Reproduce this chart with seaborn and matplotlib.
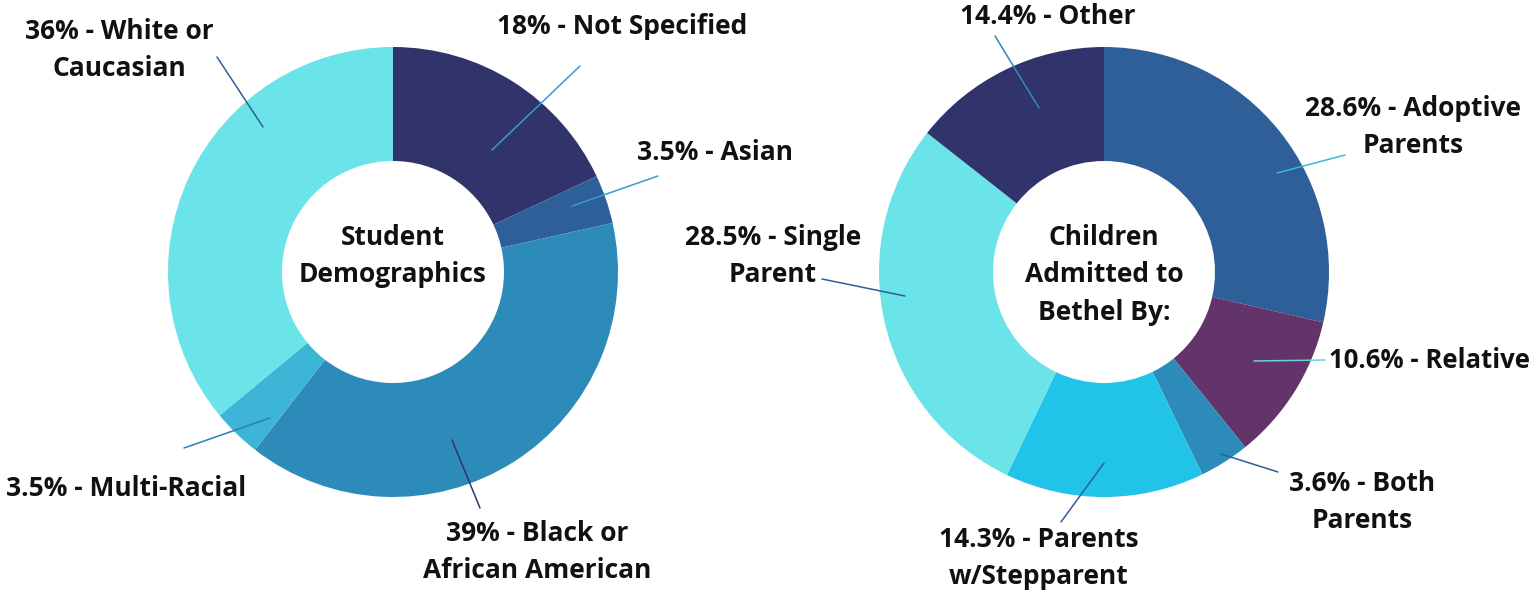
import matplotlib.pyplot as plt
import seaborn as sns

# Left donut: student demographics (clockwise from top)
demo_labels = ["18% - Not Specified", "3.5% - Asian", "39% - Black or\nAfrican American",
               "3.5% - Multi-Racial", "36% - White or\nCaucasian"]
demo_values = [18, 3.5, 39, 3.5, 36]
demo_colors = ["#31346a", "#2e5f98", "#2d8bba", "#3cb5d6", "#6ae4e8"]

# Right donut: children admitted by (clockwise from top)
adm_labels = ["28.6% - Adoptive\nParents", "10.6% - Relative", "3.6% - Both\nParents",
              "14.3% - Parents\nw/Stepparent", "28.5% - Single\nParent", "14.4% - Other"]
adm_values = [28.6, 10.6, 3.6, 14.3, 28.5, 14.4]
adm_colors = ["#2e5f98", "#633469", "#2d8bba", "#22c3e8", "#6ae4e8", "#31346a"]

W, H = 1530, 590

sns.set_theme(style="white")
plt.rcParams["font.family"] = ["Open Sans", "DejaVu Sans"]

fig = plt.figure(figsize=(W / 100, H / 100), dpi=100)
ax = fig.add_axes([0, 0, 1, 1])


def py(y):
    # pixel row (from top) -> data y
    return H - y


def donut(cx, cy, values, colors):
    ax.pie(values, colors=colors, startangle=90, counterclock=False,
           center=(cx, py(cy)), radius=225, frame=True,
           wedgeprops=dict(width=114, linewidth=0))


donut(393, 272, demo_values, demo_colors)
donut(1104, 272, adm_values, adm_colors)

# label positions (pixel centers) and leader lines
demo_text = [(622, 26), (715, 152), (537, 552), (126, 488), (119, 50)]
demo_lines = [((492, 150), (580, 66), "#3a9cc8"),
              ((572, 206), (658, 176), "#3a9cc8"),
              ((452, 440), (480, 508), "#31346a"),
              ((270, 418), (184, 448), "#2e7fb0"),
              ((263, 127), (217, 57), "#2e5f98")]
adm_text = [(1413, 127), (1430, 361), (1362, 502), (1039, 558), (773, 256), (1048, 16)]
adm_lines = [((1277, 173), (1345, 155), "#3ab8d8"),
             ((1254, 361), (1325, 360), "#6ad0e0"),
             ((1221, 454), (1278, 472), "#2e5f98"),
             ((1104, 463), (1061, 522), "#2e5f98"),
             ((905, 296), (822, 279), "#2e5f98"),
             ((1039, 108), (995, 36), "#2e8bba")]

for lab, (x, y) in zip(demo_labels + adm_labels, demo_text + adm_text):
    fs = 18.5 if "Relative" in lab else 19
    ax.text(x, py(y), lab, ha="center", va="center", fontsize=fs,
            fontweight="bold", color="#111111", linespacing=1.5)

for (x0, y0), (x1, y1), c in demo_lines + adm_lines:
    ax.plot([x0, x1], [py(y0), py(y1)], color=c, lw=1.1)

ax.text(393, py(256), "Student\nDemographics", ha="center", va="center",
        fontsize=19, fontweight="bold", color="#111111", linespacing=1.5)
ax.text(1104, py(275), "Children\nAdmitted to\nBethel By:", ha="center", va="center",
        fontsize=19, fontweight="bold", color="#111111", linespacing=1.5)

ax.set_xlim(0, W)
ax.set_ylim(0, H)
ax.set_aspect("equal")
ax.axis("off")

fig.savefig("out.png", dpi=100)
